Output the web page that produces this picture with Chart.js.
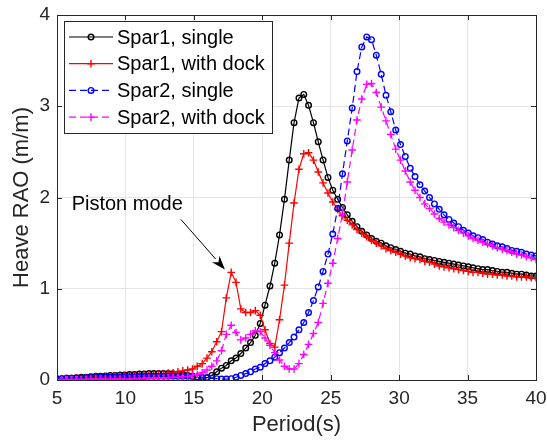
<!DOCTYPE html>
<html>
<head>
<meta charset="utf-8">
<script src="https://cdn.jsdelivr.net/npm/chart.js@4.4.0/dist/chart.umd.min.js"></script>
<style>
  html, body { margin: 0; padding: 0; background: #fff; }
  #wrap { width: 547px; height: 446px; }
</style>
</head>
<body>
<div id="wrap"><canvas id="rao" width="547" height="446"></canvas></div>
<script>
// periods (s), 100 points from 5 to 40
const periods = [
  5.00, 5.35, 5.71, 6.06, 6.41, 6.77, 7.12, 7.47, 7.83, 8.18,
  8.54, 8.89, 9.24, 9.60, 9.95, 10.30, 10.66, 11.01, 11.36, 11.72,
  12.07, 12.42, 12.78, 13.13, 13.48, 13.84, 14.19, 14.55, 14.90, 15.25,
  15.61, 15.96, 16.31, 16.67, 17.02, 17.37, 17.73, 18.08, 18.43, 18.79,
  19.14, 19.49, 19.85, 20.20, 20.56, 20.91, 21.26, 21.62, 21.97, 22.32,
  22.68, 23.03, 23.38, 23.74, 24.09, 24.44, 24.80, 25.15, 25.51, 25.86,
  26.21, 26.57, 26.92, 27.27, 27.63, 27.98, 28.33, 28.69, 29.04, 29.39,
  29.75, 30.10, 30.45, 30.81, 31.16, 31.52, 31.87, 32.22, 32.58, 32.93,
  33.28, 33.64, 33.99, 34.34, 34.70, 35.05, 35.40, 35.76, 36.11, 36.46,
  36.82, 37.17, 37.53, 37.88, 38.23, 38.59, 38.94, 39.29, 39.65, 40.00
];

const spar1Single = [
  0.01, 0.015, 0.02, 0.02, 0.025, 0.03, 0.03, 0.035, 0.04, 0.04,
  0.045, 0.05, 0.05, 0.055, 0.055, 0.06, 0.06, 0.065, 0.065, 0.07,
  0.07, 0.07, 0.07, 0.07, 0.068, 0.065, 0.06, 0.05, 0.04, 0.03,
  0.02, 0.025, 0.05, 0.09, 0.13, 0.16, 0.21, 0.24, 0.29, 0.35,
  0.41, 0.49, 0.62, 0.82, 1.03, 1.28, 1.59, 1.98, 2.41, 2.82,
  3.09, 3.13, 3.01, 2.82, 2.61, 2.41, 2.22, 2.08, 1.98, 1.89,
  1.81, 1.74, 1.68, 1.63, 1.59, 1.55, 1.52, 1.50, 1.47, 1.45,
  1.43, 1.41, 1.39, 1.38, 1.36, 1.35, 1.33, 1.32, 1.31, 1.30,
  1.29, 1.28, 1.27, 1.26, 1.25, 1.24, 1.23, 1.22, 1.21, 1.21,
  1.20, 1.19, 1.18, 1.18, 1.17, 1.16, 1.16, 1.15, 1.14, 1.14
];

const spar1Dock = [
  0.01, 0.01, 0.015, 0.015, 0.02, 0.02, 0.025, 0.025, 0.03, 0.03,
  0.035, 0.035, 0.04, 0.04, 0.045, 0.045, 0.05, 0.05, 0.055, 0.06,
  0.06, 0.065, 0.07, 0.075, 0.08, 0.09, 0.10, 0.11, 0.12, 0.15,
  0.18, 0.24, 0.31, 0.42, 0.53, 0.90, 1.18, 1.07, 0.78, 0.74,
  0.74, 0.76, 0.71, 0.55, 0.40, 0.36, 0.66, 1.04, 1.50, 1.94,
  2.31, 2.48, 2.49, 2.41, 2.28, 2.16, 2.05, 1.95, 1.87, 1.80,
  1.75, 1.70, 1.65, 1.61, 1.57, 1.53, 1.50, 1.47, 1.44, 1.42,
  1.40, 1.38, 1.36, 1.34, 1.33, 1.32, 1.30, 1.29, 1.27, 1.25,
  1.24, 1.23, 1.22, 1.21, 1.20, 1.19, 1.18, 1.18, 1.17, 1.16,
  1.16, 1.15, 1.15, 1.14, 1.14, 1.13, 1.13, 1.13, 1.12, 1.12
];

const spar2Single = [
  0.015, 0.015, 0.02, 0.02, 0.02, 0.02, 0.025, 0.025, 0.025, 0.03,
  0.03, 0.03, 0.03, 0.03, 0.035, 0.035, 0.035, 0.035, 0.035, 0.04,
  0.04, 0.04, 0.04, 0.04, 0.04, 0.04, 0.04, 0.04, 0.04, 0.035,
  0.03, 0.025, 0.02, 0.015, 0.01, 0.01, 0.015, 0.03, 0.05, 0.07,
  0.09, 0.12, 0.14, 0.18, 0.21, 0.25, 0.30, 0.35, 0.41, 0.47,
  0.55, 0.63, 0.74, 0.87, 1.02, 1.19, 1.38, 1.60, 1.88, 2.26,
  2.62, 2.98, 3.38, 3.65, 3.76, 3.73, 3.56, 3.35, 3.12, 2.94,
  2.74, 2.58, 2.45, 2.32, 2.23, 2.14, 2.07, 2.00, 1.93, 1.87,
  1.81, 1.76, 1.72, 1.68, 1.64, 1.61, 1.58, 1.56, 1.54, 1.51,
  1.49, 1.47, 1.46, 1.44, 1.42, 1.41, 1.40, 1.38, 1.37, 1.36
];

const spar2Dock = [
  0.005, 0.005, 0.005, 0.005, 0.005, 0.005, 0.005, 0.01, 0.01, 0.01,
  0.01, 0.01, 0.01, 0.01, 0.01, 0.01, 0.015, 0.015, 0.015, 0.015,
  0.02, 0.02, 0.02, 0.025, 0.03, 0.03, 0.035, 0.04, 0.05, 0.06,
  0.08, 0.11, 0.15, 0.21, 0.32, 0.50, 0.60, 0.52, 0.44, 0.46,
  0.50, 0.54, 0.53, 0.46, 0.38, 0.30, 0.22, 0.15, 0.12, 0.12,
  0.18, 0.28, 0.39, 0.51, 0.63, 0.84, 1.06, 1.28, 1.55, 1.82,
  2.17, 2.52, 2.85, 3.08, 3.24, 3.25, 3.15, 2.99, 2.84, 2.69,
  2.53, 2.41, 2.29, 2.17, 2.08, 2.00, 1.93, 1.88, 1.82, 1.77,
  1.73, 1.70, 1.67, 1.64, 1.61, 1.58, 1.55, 1.53, 1.51, 1.49,
  1.47, 1.45, 1.43, 1.42, 1.40, 1.38, 1.37, 1.35, 1.34, 1.32
];

const seriesNames = ['Spar1, single', 'Spar1, with dock', 'Spar2, single', 'Spar2, with dock'];
const xTicks = [5, 10, 15, 20, 25, 30, 35, 40];
const yTicks = [0, 1, 2, 3, 4];

const FONT = '"Liberation Sans", Arial, Helvetica, sans-serif';
const AXIS = '#262626';

function toPoints(values) {
    return values.map((v, i) => ({ x: periods[i], y: v }));
}

function makeSeries(label, values, color, marker, dashed, order) {
    return {
        label: label,
        data: toPoints(values),
        borderColor: color,
        backgroundColor: 'rgba(0,0,0,0)',
        borderWidth: 1.2,
        borderDash: dashed ? [7, 4] : [],
        pointStyle: marker,
        pointRadius: marker === 'circle' ? 2.8 : 3.8,
        pointBorderWidth: 1.4,
        pointBorderColor: color,
        pointBackgroundColor: 'rgba(0,0,0,0)',
        tension: 0,
        order: order
    };
}

// box + inward ticks like matlab axes
const axesBox = {
    id: 'axesBox',
    afterDatasetsDraw(chart) {
        const ctx = chart.ctx, a = chart.chartArea;
        const xs = chart.scales.x, ys = chart.scales.y;
        ctx.save();
        ctx.strokeStyle = AXIS;
        ctx.lineWidth = 1;
        ctx.beginPath();
        xTicks.forEach(t => {
            const px = Math.round(xs.getPixelForValue(t)) + 0.5;
            ctx.moveTo(px, a.bottom); ctx.lineTo(px, a.bottom - 5);
            ctx.moveTo(px, a.top); ctx.lineTo(px, a.top + 5);
        });
        yTicks.forEach(t => {
            const py = Math.round(ys.getPixelForValue(t)) + 0.5;
            ctx.moveTo(a.left, py); ctx.lineTo(a.left + 5, py);
            ctx.moveTo(a.right, py); ctx.lineTo(a.right - 5, py);
        });
        ctx.stroke();
        ctx.strokeRect(Math.round(a.left) + 0.5, Math.round(a.top) + 0.5,
            Math.round(a.right - a.left), Math.round(a.bottom - a.top));
        ctx.restore();
    }
};

const boxLegend = {
    id: 'boxLegend',
    afterDraw(chart) {
        const ctx = chart.ctx, a = chart.chartArea;
        const x0 = Math.round(a.left) + 7, y0 = Math.round(a.top) + 6;
        const w = 208, h = 112;
        ctx.save();
        ctx.fillStyle = '#fff';
        ctx.fillRect(x0, y0, w, h);
        ctx.strokeStyle = AXIS;
        ctx.lineWidth = 1;
        ctx.strokeRect(x0 + 0.5, y0 + 0.5, w, h);
        chart.data.datasets.forEach((ds, i) => {
            const cy = y0 + 16 + i * 26.7;
            ctx.strokeStyle = ds.borderColor;
            ctx.lineWidth = ds.borderWidth;
            ctx.setLineDash(ds.borderDash);
            ctx.beginPath();
            ctx.moveTo(x0 + 5, cy); ctx.lineTo(x0 + 49, cy);
            ctx.stroke();
            ctx.setLineDash([]);
            ctx.lineWidth = ds.pointBorderWidth;
            const mx = x0 + 27, r = ds.pointRadius;
            ctx.beginPath();
            if (ds.pointStyle === 'circle') {
                ctx.arc(mx, cy, r, 0, Math.PI * 2);
            } else {
                ctx.moveTo(mx - r, cy); ctx.lineTo(mx + r, cy);
                ctx.moveTo(mx, cy - r); ctx.lineTo(mx, cy + r);
            }
            ctx.stroke();
            ctx.fillStyle = '#000';
            ctx.font = '20px ' + FONT;
            ctx.textBaseline = 'middle';
            ctx.fillText(ds.label, x0 + 53, cy + 1);
        });
        ctx.restore();
    }
};

// "Piston mode" note with arrow, placed in data coordinates
const pistonNote = {
    id: 'pistonNote',
    afterDraw(chart) {
        const ctx = chart.ctx, xs = chart.scales.x, ys = chart.scales.y;
        const tx = xs.getPixelForValue(6.07), ty = ys.getPixelForValue(1.92);
        const x1 = xs.getPixelForValue(14.05), y1 = ys.getPixelForValue(1.76);
        const x2 = xs.getPixelForValue(17.27), y2 = ys.getPixelForValue(1.21);
        ctx.save();
        ctx.fillStyle = '#000';
        ctx.font = '20px ' + FONT;
        ctx.textBaseline = 'middle';
        ctx.fillText('Piston mode', tx, ty);
        const ang = Math.atan2(y2 - y1, x2 - x1);
        const len = 14, half = 5;
        const bx = x2 - len * Math.cos(ang), by = y2 - len * Math.sin(ang);
        ctx.strokeStyle = '#000';
        ctx.lineWidth = 1;
        ctx.beginPath();
        ctx.moveTo(x1, y1); ctx.lineTo(bx, by);
        ctx.stroke();
        const nx = -Math.sin(ang), ny = Math.cos(ang);
        const notchX = x2 - 0.7 * len * Math.cos(ang), notchY = y2 - 0.7 * len * Math.sin(ang);
        ctx.beginPath();
        ctx.moveTo(x2, y2);
        ctx.lineTo(bx + nx * half, by + ny * half);
        ctx.lineTo(notchX, notchY);
        ctx.lineTo(bx - nx * half, by - ny * half);
        ctx.closePath();
        ctx.fill();
        ctx.restore();
    }
};

const ctx = document.getElementById('rao').getContext('2d');
const chart = new Chart(ctx, {
    type: 'line',
    data: {
        datasets: [
            makeSeries(seriesNames[0], spar1Single, '#000000', 'circle', false, 3),
            makeSeries(seriesNames[1], spar1Dock, '#ff0000', 'cross', false, 2),
            makeSeries(seriesNames[2], spar2Single, '#0000ff', 'circle', true, 1),
            makeSeries(seriesNames[3], spar2Dock, '#ff00ff', 'cross', true, 0)
        ]
    },
    options: {
        responsive: false,
        animation: false,
        devicePixelRatio: 1,
        layout: { padding: { top: 15, right: 11, left: 0, bottom: 0 } },
        plugins: {
            legend: { display: false },
            tooltip: { enabled: false }
        },
        scales: {
            x: {
                type: 'linear',
                min: 5,
                max: 40,
                afterBuildTicks: s => { s.ticks = xTicks.map(v => ({ value: v })); },
                afterFit: s => { s.height = 66; s.paddingLeft = 0; s.paddingRight = 0; },
                ticks: { color: AXIS, font: { family: FONT, size: 19 }, padding: 7, maxRotation: 0 },
                grid: { color: '#e4e4e4', drawTicks: false },
                border: { display: false },
                title: {
                    display: true,
                    text: 'Period(s)',
                    color: AXIS,
                    font: { family: FONT, size: 22 },
                    padding: { top: 0, bottom: 8 }
                }
            },
            y: {
                min: 0,
                max: 4,
                afterBuildTicks: s => { s.ticks = yTicks.map(v => ({ value: v })); },
                afterFit: s => { s.width = 57; s.paddingTop = 0; s.paddingBottom = 0; },
                ticks: { color: AXIS, font: { family: FONT, size: 19 }, padding: 7 },
                grid: { color: '#e4e4e4', drawTicks: false },
                border: { display: false },
                title: {
                    display: true,
                    text: 'Heave RAO (m/m)',
                    color: AXIS,
                    font: { family: FONT, size: 22 },
                    padding: { top: 9, bottom: 0 }
                }
            }
        }
    },
    plugins: [axesBox, boxLegend, pistonNote]
});
</script>
</body>
</html>
